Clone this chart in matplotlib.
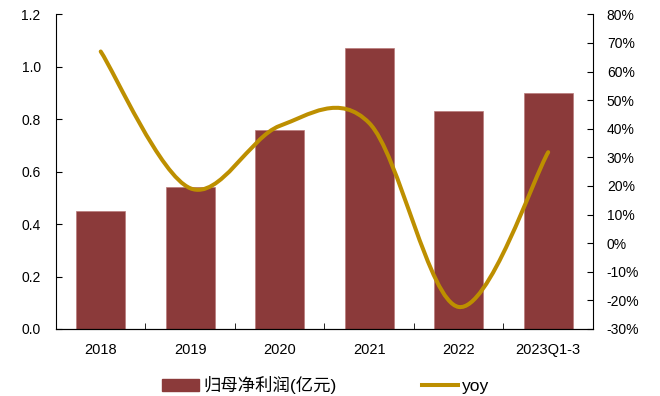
import matplotlib
matplotlib.use("Agg")
import matplotlib.pyplot as plt
import numpy as np
from matplotlib.path import Path
from matplotlib.patches import PathPatch
from matplotlib.lines import Line2D
from matplotlib.ticker import FuncFormatter, MultipleLocator

plt.rcParams["font.family"] = ["Liberation Sans", "Noto Sans CJK SC", "DejaVu Sans"]

categories = ["2018", "2019", "2020", "2021", "2022", "2023Q1-3"]
net_profit = [0.45, 0.54, 0.76, 1.07, 0.83, 0.90]   # 归母净利润, 亿元
yoy = [67.0, 19.2, 41.0, 42.0, -22.3, 31.8]          # 同比, %

BAR_COLOR = "#8B3A3A"
LINE_COLOR = "#BD8F00"


def smooth_path(xs, ys, tension=1 / 6):
    # Bezier-smoothed polyline (Catmull-Rom style control points)
    xs = np.asarray(xs, float)
    ys = np.asarray(ys, float)
    n = len(xs)
    verts = [(xs[0], ys[0])]
    codes = [Path.MOVETO]
    for i in range(n - 1):
        i0 = max(i - 1, 0)
        i3 = min(i + 2, n - 1)
        c1 = (xs[i] + (xs[i + 1] - xs[i0]) * tension, ys[i] + (ys[i + 1] - ys[i0]) * tension)
        c2 = (xs[i + 1] - (xs[i3] - xs[i]) * tension, ys[i + 1] - (ys[i3] - ys[i]) * tension)
        verts += [c1, c2, (xs[i + 1], ys[i + 1])]
        codes += [Path.CURVE4] * 3
    return Path(verts, codes)


fig = plt.figure(figsize=(6.6, 3.96), dpi=100)
ax = fig.add_axes([0.0848, 0.1692, 0.8136, 0.7947])
x = np.arange(len(categories))

ax.bar(x, net_profit, width=0.55, color=BAR_COLOR, edgecolor="#B97A7A", linewidth=0.5, zorder=2)
ax.set_xlim(-0.5, len(categories) - 0.5)
ax.set_ylim(0, 1.2)
ax.yaxis.set_major_locator(MultipleLocator(0.2))
ax.yaxis.set_major_formatter(FuncFormatter(lambda v, _: f"{v:.1f}"))
ax.set_xticks(x)
ax.set_xticklabels(categories)
ax.set_xticks(np.arange(-0.5, len(categories)), minor=True)
ax.tick_params(axis="x", which="major", length=0, labelsize=10.5, pad=10)
ax.tick_params(axis="x", which="minor", direction="in", length=4)
ax.tick_params(axis="y", direction="in", length=4, labelsize=10, pad=11)
ax.spines["top"].set_visible(False)
ax.spines["right"].set_visible(False)

ax2 = ax.twinx()
ax2.set_ylim(-30, 80)
ax2.yaxis.set_major_locator(MultipleLocator(10))
ax2.yaxis.set_major_formatter(FuncFormatter(lambda v, _: f"{v:.0f}%"))
ax2.tick_params(axis="y", direction="in", length=4, labelsize=10, pad=10)
ax2.spines["top"].set_visible(False)
ax2.spines["left"].set_visible(False)
ax2.add_patch(PathPatch(smooth_path(x, yoy), facecolor="none", edgecolor=LINE_COLOR,
                        lw=2.9, capstyle="round", zorder=3))

handles = [
    plt.Rectangle((0, 0), 1, 1, color=BAR_COLOR),
    Line2D([], [], color=LINE_COLOR, lw=2.9),
]
fig.legend(handles, ["归母净利润(亿元)", "yoy"], loc="center",
           bbox_to_anchor=(0.494, 0.028), ncol=2, frameon=False,
           fontsize=12.5, columnspacing=4.9, handlelength=2.1, handletextpad=0.25)

fig.savefig("out.png", dpi=100)
